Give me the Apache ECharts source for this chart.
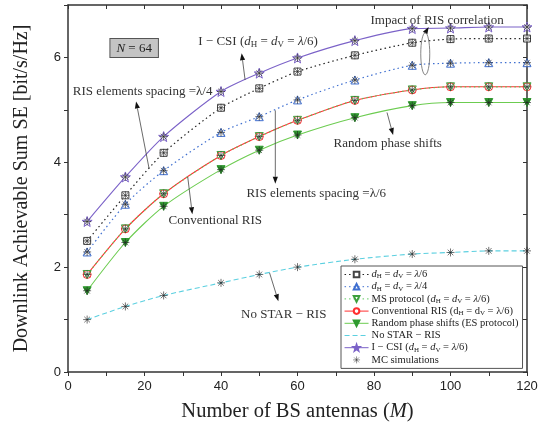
<!DOCTYPE html>
<html>
<head>
<meta charset="utf-8">
<script src="https://cdn.jsdelivr.net/npm/echarts@6/dist/echarts.min.js"></script>
<style>
html, body { margin: 0; padding: 0; background: #fff; }
#chart { width: 552px; height: 431px; }
</style>
</head>
<body>
<div id="chart"></div>
<script>
// number of BS antennas (x)
var antennas = [5, 15, 25, 40, 50, 60, 75, 90, 100, 110, 120];
// downlink achievable sum SE per curve
var spacingL6 = [2.50, 3.37, 4.18, 5.04, 5.41, 5.73, 6.04, 6.28, 6.35, 6.36, 6.36];
var spacingL4 = [2.29, 3.20, 3.84, 4.57, 4.87, 5.19, 5.57, 5.85, 5.89, 5.90, 5.90];
var msProtocol = [1.86, 2.73, 3.40, 4.13, 4.49, 4.80, 5.18, 5.38, 5.44, 5.44, 5.44];
var conventionalRis = [1.86, 2.73, 3.40, 4.13, 4.49, 4.80, 5.18, 5.38, 5.44, 5.44, 5.44];
var randomPhase = [1.55, 2.47, 3.16, 3.86, 4.23, 4.52, 4.85, 5.08, 5.14, 5.14, 5.14];
var noStarRis = [1.00, 1.25, 1.46, 1.70, 1.86, 2.00, 2.15, 2.25, 2.28, 2.31, 2.31];
var icsi = [2.87, 3.72, 4.49, 5.35, 5.70, 5.99, 6.32, 6.55, 6.56, 6.58, 6.58];
var xTickLabels = [0, 20, 40, 60, 80, 100, 120];
var yTickLabels = [0, 2, 4, 6];

var serif = 'Liberation Serif';
var sans = 'Liberation Sans';

function pts(arr) {
    return antennas.map(function (x, i) { return [x, arr[i]]; });
}

// MC simulation markers sit on every computed point
var mcPoints = [];
[spacingL6, spacingL4, conventionalRis, randomPhase, noStarRis, icsi].forEach(function (arr) {
    mcPoints = mcPoints.concat(pts(arr));
});

var starPath = 'path://M10,0L12.35,6.76L19.51,6.91L13.8,11.24L15.88,18.09L10,14L4.12,18.09L6.2,11.24L0.49,6.91L7.65,6.76Z';
var asteriskPath = 'path://M5,0L5,10M0,5L10,5M1.5,1.5L8.5,8.5M1.5,8.5L8.5,1.5';

var sub = '{i|d}{s|H} = {i|d}{s|V} = {i|λ}';
var legendText = {
    'l6': sub + '/6',
    'l4': sub + '/4',
    'ms': 'MS protocol (' + sub + '/6)',
    'conv': 'Conventional RIS (d{s|H} = d{s|V} = λ/6)',
    'rand': 'Random phase shifts (ES protocol)',
    'nostar': 'No STAR − RIS',
    'icsi': 'I − CSI (' + sub + '/6)',
    'mc': 'MC simulations'
};

var richStyles = {
    i: { fontStyle: 'italic', fontFamily: serif, fontSize: 10.5, color: '#222', lineHeight: 11 },
    s: { fontFamily: serif, fontSize: 7, color: '#222', verticalAlign: 'bottom', lineHeight: 11, padding: [3, 0, 0, 0] }
};

var chart = echarts.init(document.getElementById('chart'));

function mirrorX(pos, show) {
    return {
        type: 'value', min: 0, max: 120, interval: 10, position: pos,
        axisLine: { show: true, onZero: false, lineStyle: { color: '#333', width: 1.5 } },
        axisTick: { show: true, inside: pos === 'top', length: 4, lineStyle: { color: '#333' } },
        axisLabel: {
            show: show, color: '#222', fontFamily: sans, fontSize: 13, margin: 8,
            formatter: function (v) { return xTickLabels.indexOf(v) >= 0 ? String(v) : ''; }
        },
        splitLine: { show: false }
    };
}
function mirrorY(pos, show) {
    return {
        type: 'value', min: 0, max: 7, interval: 1, position: pos,
        axisLine: { show: true, onZero: false, lineStyle: { color: '#333', width: 1.5 } },
        axisTick: { show: true, inside: pos === 'right', length: 4, lineStyle: { color: '#333' } },
        axisLabel: {
            show: show, color: '#222', fontFamily: sans, fontSize: 13, margin: 7,
            formatter: function (v) { return yTickLabels.indexOf(v) >= 0 ? String(v) : ''; }
        },
        splitLine: { show: false }
    };
}

var xBottom = mirrorX('bottom', true);
xBottom.name = 'Number of BS antennas ({i|M})';
xBottom.nameLocation = 'middle';
xBottom.nameGap = 29;
xBottom.nameTextStyle = {
    fontFamily: serif, fontSize: 20.5, color: '#222',
    rich: { i: { fontFamily: serif, fontSize: 20.5, fontStyle: 'italic', color: '#222' } }
};
var yLeft = mirrorY('left', true);
yLeft.name = 'Downlink Achievable Sum SE [bit/s/Hz]';
yLeft.nameLocation = 'middle';
yLeft.nameGap = 36;
yLeft.nameTextStyle = { fontFamily: serif, fontSize: 20, color: '#222' };

var option = {
    animation: false,
    backgroundColor: '#fff',
    grid: { left: 68, right: 25, top: 5, bottom: 59 },
    xAxis: [xBottom, mirrorX('top', false)],
    yAxis: [yLeft, mirrorY('right', false)],
    legend: {
        orient: 'vertical', left: 341, top: 266,
        itemWidth: 24, itemHeight: 7, itemGap: 1.2,
        padding: [3, 4, 3, 3],
        backgroundColor: '#fff', borderColor: '#555', borderWidth: 1, borderRadius: 0,
        lineStyle: { width: 1 },
        data: ['l6', 'l4', 'ms', 'conv', 'rand',
            { name: 'nostar', itemStyle: { opacity: 0 }, lineStyle: { opacity: 1, color: '#5cd0e0', width: 1.1 } },
            { name: 'icsi', itemStyle: { color: '#fff' } },
            { name: 'mc', itemStyle: { borderWidth: 0.6 } }],
        formatter: function (name) { return legendText[name]; },
        textStyle: { fontFamily: serif, fontSize: 10.5, color: '#222', lineHeight: 11, padding: [0, 0, 0, -2], rich: richStyles }
    },
    series: [
        {
            name: 'l6', type: 'line', data: pts(spacingL6), smooth: 0.25,
            lineStyle: { color: '#222', width: 1.2, type: [1.5, 3] },
            symbol: 'rect', symbolSize: 7,
            itemStyle: { color: '#fff', borderColor: '#444', borderWidth: 1 }, z: 3
        },
        {
            name: 'l4', type: 'line', data: pts(spacingL4), smooth: 0.25,
            lineStyle: { color: '#3f6fd0', width: 1.2, type: [1.5, 3] },
            symbol: 'triangle', symbolSize: 8,
            itemStyle: { color: '#fff', borderColor: '#3f6fd0', borderWidth: 1 }, z: 3
        },
        {
            name: 'ms', type: 'line', data: pts(msProtocol), smooth: 0.25,
            lineStyle: { color: '#5cc85c', width: 1.2, type: [1.5, 3] },
            symbol: 'triangle', symbolRotate: 180, symbolSize: 8,
            itemStyle: { color: 'rgba(0,0,0,0)', borderColor: '#3da03d', borderWidth: 1 }, z: 5
        },
        {
            name: 'conv', type: 'line', data: pts(conventionalRis), smooth: 0.25,
            lineStyle: { color: '#ff3030', width: 1.1 },
            symbol: 'circle', symbolSize: 8,
            itemStyle: { color: '#fff', borderColor: '#ff3030', borderWidth: 1 }, z: 4
        },
        {
            name: 'rand', type: 'line', data: pts(randomPhase), smooth: 0.25,
            lineStyle: { color: '#6ccc50', width: 1.1 },
            symbol: 'triangle', symbolRotate: 180, symbolSize: 8,
            itemStyle: { color: '#2f9a2f', borderColor: '#2f9a2f', borderWidth: 1 }, z: 4
        },
        {
            name: 'nostar', type: 'line', data: pts(noStarRis), smooth: 0.25,
            lineStyle: { color: '#5cd0e0', width: 1.1, type: [5, 3] },
            symbol: 'none', itemStyle: { color: '#5cd0e0' }, z: 3
        },
        {
            name: 'icsi', type: 'line', data: pts(icsi), smooth: 0.25,
            lineStyle: { color: '#7b62c8', width: 1.1 },
            symbol: starPath, symbolSize: 10,
            itemStyle: { color: '#fff', borderColor: '#7b62c8', borderWidth: 1 }, z: 4
        },
        {
            name: 'mc', type: 'scatter', data: mcPoints,
            symbol: asteriskPath, symbolSize: 8,
            itemStyle: { color: 'rgba(0,0,0,0)', borderColor: '#222', borderWidth: 0.8 }, z: 6
        }
    ]
};
chart.setOption(option);

// annotations, placed in data coordinates
var notes = [
    { text: 'I − CSI ({i|d}{s|H} = {i|d}{s|V} = {i|λ}/6)', at: [49.7, 6.30] },
    { text: 'Impact of RIS correlation', at: [96.5, 6.70] },
    { text: 'RIS elements spacing =λ/4', at: [19.5, 5.34] },
    { text: 'Conventional RIS', at: [38.5, 2.88] },
    { text: 'RIS elements spacing =λ/6', at: [64.9, 3.40] },
    { text: 'Random phase shifts', at: [83.6, 4.36] },
    { text: 'No STAR − RIS', at: [56.4, 1.09] }
];
var arrows = [
    [[46.3, 5.57], [45.4, 6.08]],
    [[93.4, 6.47], [94.3, 6.58]],
    [[21.2, 3.88], [17.8, 5.16]],
    [[31.3, 3.72], [32.5, 3.01]],
    [[54.2, 4.99], [54.2, 3.59]],
    [[83.4, 4.95], [85.0, 4.52]],
    [[52.7, 1.89], [55.0, 1.35]]
];

function px(p) { return chart.convertToPixel({ seriesIndex: 0 }, p); }

var noteRich = {
    i: { fontFamily: serif, fontSize: 13, fontStyle: 'italic', fill: '#333' },
    s: { fontFamily: serif, fontSize: 9, fill: '#333', verticalAlign: 'bottom', padding: [5, 0, 0, 0] }
};

var graphics = [];
notes.forEach(function (n) {
    var p = px(n.at);
    graphics.push({
        type: 'text', x: p[0], y: p[1], z: 10,
        style: {
            text: n.text, fontFamily: serif, fontSize: 13, fill: '#333',
            align: 'center', verticalAlign: 'middle',
            rich: noteRich
        }
    });
});
arrows.forEach(function (a) {
    var p0 = px(a[0]), p1 = px(a[1]);
    var dx = p1[0] - p0[0], dy = p1[1] - p0[1];
    var len = Math.sqrt(dx * dx + dy * dy);
    var ux = dx / len, uy = dy / len;
    var hl = 7, hw = 2.6;
    var bx = p1[0] - ux * hl, by = p1[1] - uy * hl;
    graphics.push({
        type: 'line', z: 10,
        shape: { x1: p0[0], y1: p0[1], x2: bx, y2: by },
        style: { stroke: '#444', lineWidth: 0.8 }
    });
    graphics.push({
        type: 'polygon', z: 10,
        shape: { points: [[p1[0], p1[1]], [bx - uy * hw, by + ux * hw], [bx + uy * hw, by - ux * hw]] },
        style: { fill: '#111' }
    });
});
// N = 64 box
var nPos = px([17.3, 6.18]);
graphics.push({
    type: 'text', x: nPos[0], y: nPos[1], z: 10,
    style: {
        text: '{i|N} = 64', fontFamily: serif, fontSize: 13, fill: '#222',
        align: 'center', verticalAlign: 'middle',
        backgroundColor: '#c4c4c4', borderColor: '#555', borderWidth: 1, padding: [3, 6, 2, 6],
        rich: { i: { fontFamily: serif, fontSize: 13, fontStyle: 'italic', fill: '#222' } }
    }
});
// ellipse marking the correlation gap
var ePos = px([93.4, 6.07]);
graphics.push({
    type: 'ellipse', z: 10,
    shape: { cx: ePos[0], cy: ePos[1], rx: 4.5, ry: 21 },
    style: { fill: 'none', stroke: '#666', lineWidth: 0.8 }
});

chart.setOption({ graphic: graphics });
window.addEventListener('resize', chart.resize);
</script>
</body>
</html>
